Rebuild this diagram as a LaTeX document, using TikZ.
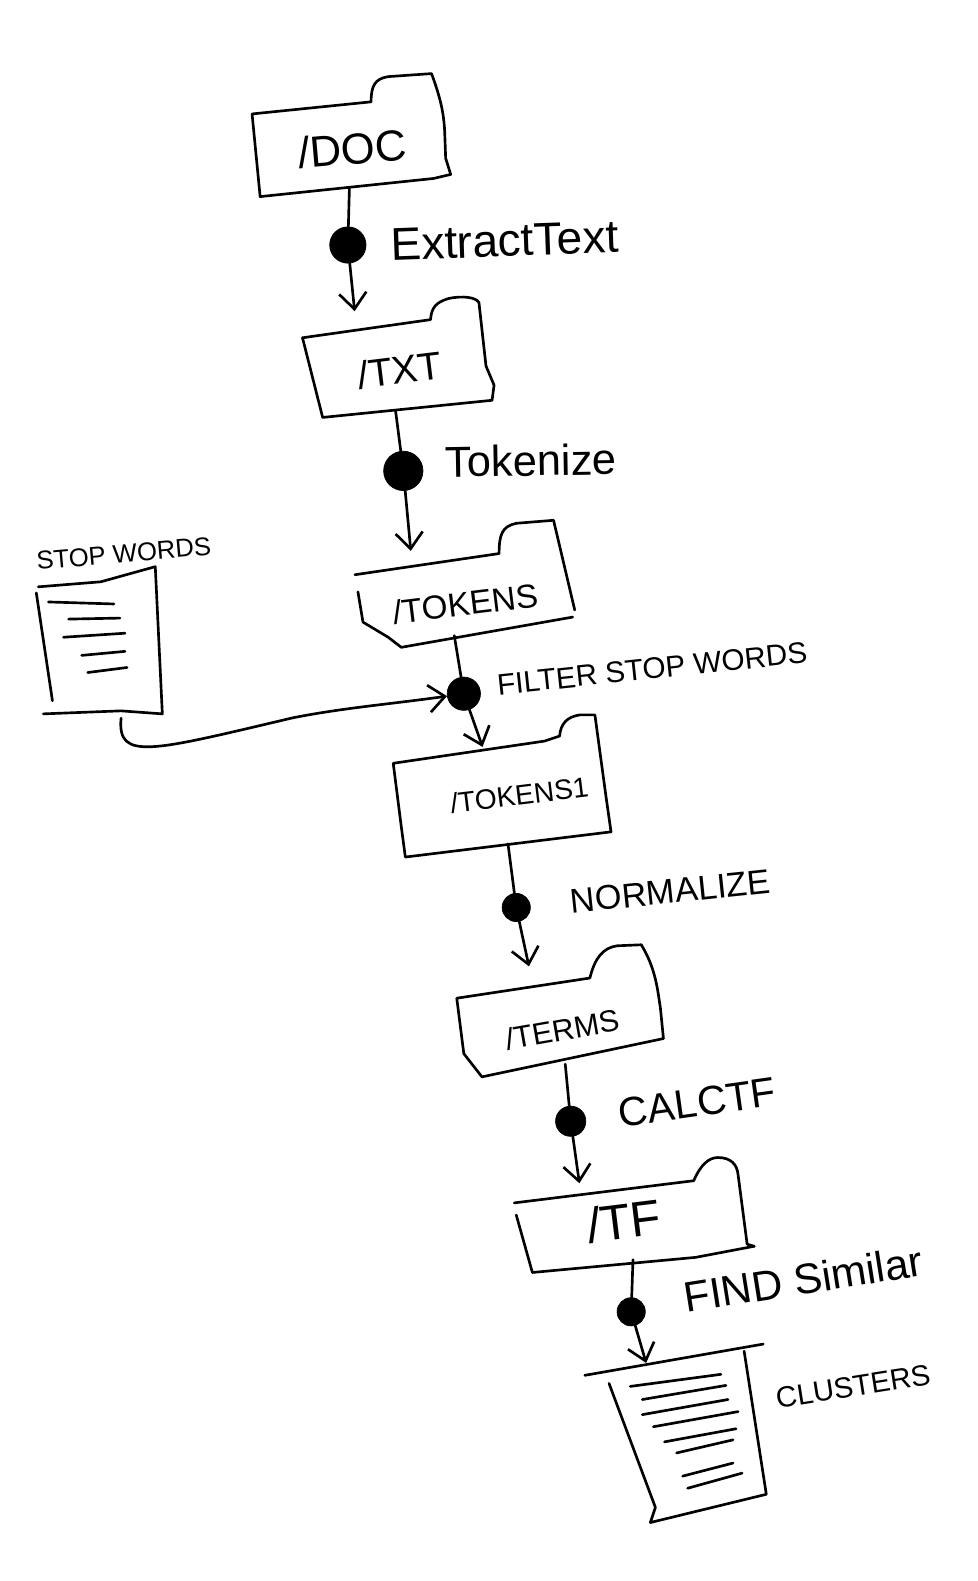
\documentclass[tikz,border=0pt]{standalone}
\usepackage{fontspec}
\setmainfont{Liberation Sans}
\usetikzlibrary{arrows.meta,positioning}

\begin{document}
\begin{tikzpicture}[x=0.02cm,y=-0.02cm,>={Straight Barb[length=3.2mm,width=5.4mm]}]
	\tikzset{
		pen/.style={line width=1.5pt,line cap=round,line join=round},
		flow/.style={pen,->},
		hand/.style={font=\fontsize{#1}{#1}\selectfont},
		box/.style={inner sep=0pt},
		opdot/.style={circle,fill=black,draw=black,inner sep=0pt,minimum size=#1}
	}
	\useasboundingbox (0,0) rectangle (969,1568);

	% folders
	\node [box,hand=24.6,rotate=5,text width=3.84cm,align=center,text height=1.66cm,text depth=.46cm] (doc) at (348,133) {/DOC};
	\node [box,hand=22,rotate=7,text width=3.66cm,align=center,text height=1.54cm,text depth=.5cm] (txt) at (395,355) {/TXT};
	\node [box,hand=18.8,rotate=7,text width=4.22cm,align=center,text height=1.6cm,text depth=.56cm] (tokens) at (460,584.5) {/TOKENS};
	\node [box,hand=15.9,rotate=7,text width=4.1cm,align=center,text height=1.52cm,text depth=.88cm] (tokensone) at (497,784.5) {\hspace*{.7cm}/TOKENS1};
	\node [box,hand=17.2,rotate=10,text width=3.9cm,align=center,text height=1.32cm,text depth=.76cm] (terms) at (557,1018) {/TERMS};
	\node [box,hand=28,rotate=7,text width=4.64cm,align=center,text height=1.2cm,text depth=.62cm] (tf) at (629,1213) {\hspace*{-.4cm}/TF};

	% documents
	\node [box,rotate=3,minimum width=2.44cm,minimum height=2.92cm] (stopwords) at (98,640) {};
	\node [box,rotate=9,minimum width=3.16cm,minimum height=3.2cm] (clusters) at (673,1443) {};

	\draw[pen] (250,113) -- (368,101) .. controls (368,85) and (372,78) .. (385,76) -- (428,73) .. controls (436,95) and (440,110) .. (441,130) -- (442,157) -- (447,173) -- (430,177) -- (258,195) -- cycle;
	\draw[pen] (300,335) -- (427,317) .. controls (428,305) and (432,300) .. (445,296) .. controls (460,293) and (472,295) .. (475,300) -- (482,363) -- (490,382) -- (488,397) -- (320,414) -- cycle;
	\draw[pen] (352,570) -- (495,549) .. controls (495,530) and (498,522) .. (512,519) -- (549,516) -- (570,605);
	\draw[pen] (568,612) -- (398,642) -- (385,632) -- (360,617) -- (355,587);
	\draw[pen] (390,757) -- (540,735) -- (555,730) .. controls (556,718) and (562,711) .. (575,709) -- (590,709) -- (601,790) -- (606,825) -- (402,850) -- (398,820) -- cycle;
	\draw[pen] (453,990) -- (585,970) .. controls (590,950) and (598,940) .. (612,938) -- (636,937) .. controls (650,960) and (652,980) .. (655,1000) -- (658,1030) -- (478,1068) -- (460,1045) -- cycle;
	\draw[pen] (510,1193) -- (688,1171) .. controls (695,1155) and (703,1148) .. (712,1148) .. controls (725,1148) and (731,1155) .. (732,1165) -- (741,1234) -- (748,1236);
	\draw[pen] (748,1236) -- (690,1247) -- (528,1262) -- (512,1205);

	\draw[pen] (38,582) -- (100,577) -- (154,562) -- (161,708) -- (120,705) -- (43,708);
	\draw[pen] (36,588) -- (52,695);
	\foreach \xa/\ya/\xb/\yb in {48/597/113/599,68/614/119/613,63/632/124/628,81/650/124/646,87/667/126/662}
		\draw[pen] (\xa,\ya) -- (\xb,\yb);

	\draw[pen] (580,1364) -- (757,1333);
	\draw[pen] (604,1372) -- (650,1495) -- (645,1510) -- (760,1482) -- (738,1340);
	\foreach \xa/\ya/\xb/\yb in {625/1375/715/1363,637/1388/720/1374,637/1403/722/1388,648/1415/732/1400,659/1430/730/1417,671/1441/727/1428,677/1464/727/1451,682/1476/736/1461}
		\draw[pen] (\xa,\ya) -- (\xb,\yb);

	% operations
	\node [opdot=.72cm] (extract) at (345,243) {};
	\node [opdot=.78cm] (tokenize) at (400,467) {};
	\node [opdot=.66cm] (filter) at (460,688) {};
	\node [opdot=.56cm] (normalize) at (512,900) {};
	\node [opdot=.6cm] (calctf) at (566,1112) {};
	\node [opdot=.56cm] (similar) at (626,1301) {};

	\node [hand=26,rotate=2] (extractlabel) [right=.36cm of extract] {ExtractText};
	\node [hand=24.5,rotate=1] (tokenizelabel) [right=.32cm of tokenize,yshift=.18cm] {Tokenize};
	\node [hand=16.8,rotate=6] (filterlabel) [right=.22cm of filter,yshift=.16cm] {FILTER STOP WORDS};
	\node [hand=19.4,rotate=6] (normalizelabel) [right=.68cm of normalize,yshift=.1cm] {NORMALIZE};
	\node [hand=23,rotate=8] (calctflabel) [right=.54cm of calctf,yshift=.14cm] {CALCTF};
	\node [hand=24,rotate=9] (similarlabel) [right=.68cm of similar,yshift=.26cm] {FIND Similar};
	\node [hand=16.5,rotate=9] (clusterslabel) [right=.38cm of clusters.east,yshift=.86cm] {CLUSTERS};
	\node [hand=14.5,rotate=5] (stoplabel) [above=0cm of stopwords,xshift=.6cm] {STOP WORDS};

	% connectors
	\draw[pen] (doc) -- (extract);
	\draw[flow] (extract) -- (txt.126);
	\draw[pen] (txt.-100) -- (tokenize);
	\draw[flow,shorten >=-.2cm] (tokenize) -- (tokens.131);
	\draw[pen,shorten <=-.2cm] (tokens.-105) -- (filter);
	\draw[flow,shorten >=-.3cm] (filter) -- (tokensone.105);
	\draw[pen,shorten <=-.15cm] (tokensone) -- (normalize);
	\draw[flow,shorten >=.24cm] (normalize) -- (terms.112);
	\draw[pen,shorten <=-.3cm] (terms) -- (calctf);
	\draw[flow] (calctf) -- (tf.137);
	\draw[pen,shorten <=-.2cm] (tf) -- (similar);
	\draw[flow,shorten >=.3cm] (similar) -- (clusters.101);
	\draw[flow] (stopwords.-76) .. controls (116,755) and (150,745) .. (290,712) .. controls (340,702) and (390,698) .. (filter);
\end{tikzpicture}
\end{document}
